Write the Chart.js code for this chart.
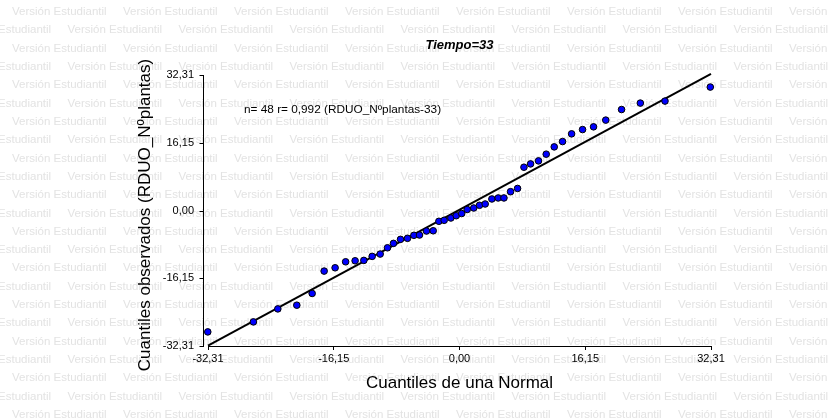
<!DOCTYPE html>
<html>
<head>
<meta charset="utf-8">
<script src="https://cdn.jsdelivr.net/npm/chart.js@4.4.1/dist/chart.umd.min.js"></script>
<style>
  html, body { margin: 0; padding: 0; background: #fff; }
  #wrap { width: 831px; height: 420px; }
</style>
</head>
<body>
<div id="wrap"><canvas id="qq" width="831" height="420"></canvas></div>
<script>
// Cuantiles de una Normal (eje X) y cuantiles observados (eje Y)
const cuantilesNormal = [
  -32.34, -26.48, -23.34, -20.90, -18.93, -17.39, -15.98, -14.63,
  -13.41, -12.29, -11.22, -10.19, -9.25, -8.48, -7.58, -6.68,
  -5.86, -5.14, -4.24, -3.38, -2.65, -1.97, -1.11, -0.42,
  0.28, 0.99, 1.83, 2.57, 3.30, 4.16, 4.97, 5.71,
  6.56, 7.46, 8.28, 9.13, 10.15, 11.14, 12.17, 13.24,
  14.40, 15.81, 17.22, 18.79, 20.82, 23.23, 26.40, 32.22
];
const cuantilesObs = [
  -28.95, -26.56, -23.46, -22.58, -19.78, -14.45, -13.66, -12.23,
  -11.99, -11.90, -10.94, -10.39, -8.89, -7.84, -6.88, -6.64,
  -5.92, -5.85, -4.90, -4.83, -2.58, -2.34, -1.79, -1.24,
  -0.72, 0.24, 0.60, 1.24, 1.55, 2.75, 2.99, 2.99,
  4.49, 5.26, 10.32, 11.11, 11.83, 13.43, 15.17, 16.44,
  18.28, 19.30, 19.95, 21.55, 24.08, 25.61, 26.09, 29.43
];
// Recta de referencia
const rectaX = [-32.31, 32.31];
const rectaY = [-32.2, 32.6];
// Marcas de los ejes
const marcas = [-32.31, -16.155, 0, 16.155, 32.31];
const marcasTexto = ["-32,31", "-16,15", "0,00", "16,15", "32,31"];

const titulo = "Tiempo=33";
const anotacion = "n= 48 r= 0,992 (RDUO_N\u00baplantas-33)";
const tituloX = "Cuantiles de una Normal";
const tituloY = "Cuantiles observados (RDUO_N\u00baplantas)";
const marcaAgua = "Versi\u00f3n Estudiantil";

const puntos = cuantilesNormal.map((x, i) => ({ x: x, y: cuantilesObs[i] }));
const recta = rectaX.map((x, i) => ({ x: x, y: rectaY[i] }));

// Fondo con la marca de agua
const fondo = {
  id: "fondo",
  beforeDraw(chart) {
    const ctx = chart.ctx;
    ctx.save();
    ctx.fillStyle = "#fff";
    ctx.fillRect(0, 0, chart.width, chart.height);
    ctx.font = "11.5px 'Liberation Sans', Arial, sans-serif";
    ctx.fillStyle = "#e3e3e3";
    ctx.textBaseline = "middle";
    let fila = 0;
    for (let y = 11.7; y < chart.height + 10; y += 18.33) {
      let x0 = fila % 2 === 0 ? 12 : 67.5;
      for (let x = x0 - 111; x < chart.width; x += 111) {
        ctx.fillText(marcaAgua, x, y);
      }
      fila++;
    }
    ctx.restore();
  }
};

// Eje Y separado, títulos y anotación
const extras = {
  id: "extras",
  afterDraw(chart) {
    const ctx = chart.ctx;
    const ca = chart.chartArea;
    const sy = chart.scales.y;
    ctx.save();
    ctx.strokeStyle = "#000";
    ctx.lineWidth = 1;
    const ax = Math.round(ca.left - 5) + 0.5;
    ctx.beginPath();
    ctx.moveTo(ax, sy.getPixelForValue(32.31));
    ctx.lineTo(ax, sy.getPixelForValue(-32.31) + 1);
    marcas.forEach(v => {
      const py = Math.round(sy.getPixelForValue(v)) + 0.5;
      ctx.moveTo(ax - 4, py);
      ctx.lineTo(ax, py);
    });
    ctx.stroke();

    ctx.fillStyle = "#000";
    ctx.textAlign = "center";
    ctx.textBaseline = "middle";
    ctx.font = "italic bold 13px 'Liberation Sans', Arial, sans-serif";
    ctx.fillText(titulo, (ca.left + ca.right) / 2, 45);

    ctx.textAlign = "left";
    ctx.font = "11.8px 'Liberation Sans', Arial, sans-serif";
    ctx.fillText(anotacion, 244, 110);

    ctx.textAlign = "center";
    ctx.font = "17px 'Liberation Sans', Arial, sans-serif";
    ctx.fillText(tituloX, (ca.left + ca.right) / 2, 383);

    ctx.translate(145, 215);
    ctx.rotate(-Math.PI / 2);
    ctx.fillText(tituloY, 0, 0);
    ctx.restore();
  }
};

const ctxQQ = document.getElementById("qq").getContext("2d");

const chartQQ = new Chart(ctxQQ, {
  type: "scatter",
  data: {
    datasets: [{
      type: "line",
      data: recta,
      borderColor: "#000",
      borderWidth: 2,
      pointRadius: 0,
      fill: false,
      clip: false,
      order: 2
    }, {
      data: puntos,
      pointBackgroundColor: "#0000ff",
      pointBorderColor: "#000",
      pointBorderWidth: 1,
      pointRadius: 3.3,
      clip: false,
      order: 1
    }]
  },
  options: {
    responsive: false,
    animation: false,
    events: [],
    layout: { padding: { top: 75, right: 120, left: 0, bottom: 0 } },
    plugins: {
      legend: { display: false },
      tooltip: { enabled: false }
    },
    scales: {
      x: {
        type: "linear",
        min: -32.31,
        max: 32.31,
        afterFit: s => { s.height = 74; },
        afterBuildTicks: s => { s.ticks = marcas.map(v => ({ value: v })); },
        grid: { drawOnChartArea: false, drawTicks: true, tickLength: 4, color: "#000" },
        border: { display: true, color: "#000", width: 1 },
        ticks: {
          color: "#000",
          padding: 2,
          maxRotation: 0,
          font: { family: "'Liberation Sans', Arial, sans-serif", size: 11 },
          callback: (v, i) => marcasTexto[i]
        }
      },
      y: {
        type: "linear",
        min: -32.31,
        max: 32.31,
        afterFit: s => { s.width = 208; },
        afterBuildTicks: s => { s.ticks = marcas.map(v => ({ value: v })); },
        grid: { display: false, drawTicks: false },
        border: { display: false },
        ticks: {
          color: "#000",
          padding: 14,
          font: { family: "'Liberation Sans', Arial, sans-serif", size: 11 },
          callback: (v, i) => marcasTexto[i]
        }
      }
    }
  },
  plugins: [fondo, extras]
});
</script>
</body>
</html>
